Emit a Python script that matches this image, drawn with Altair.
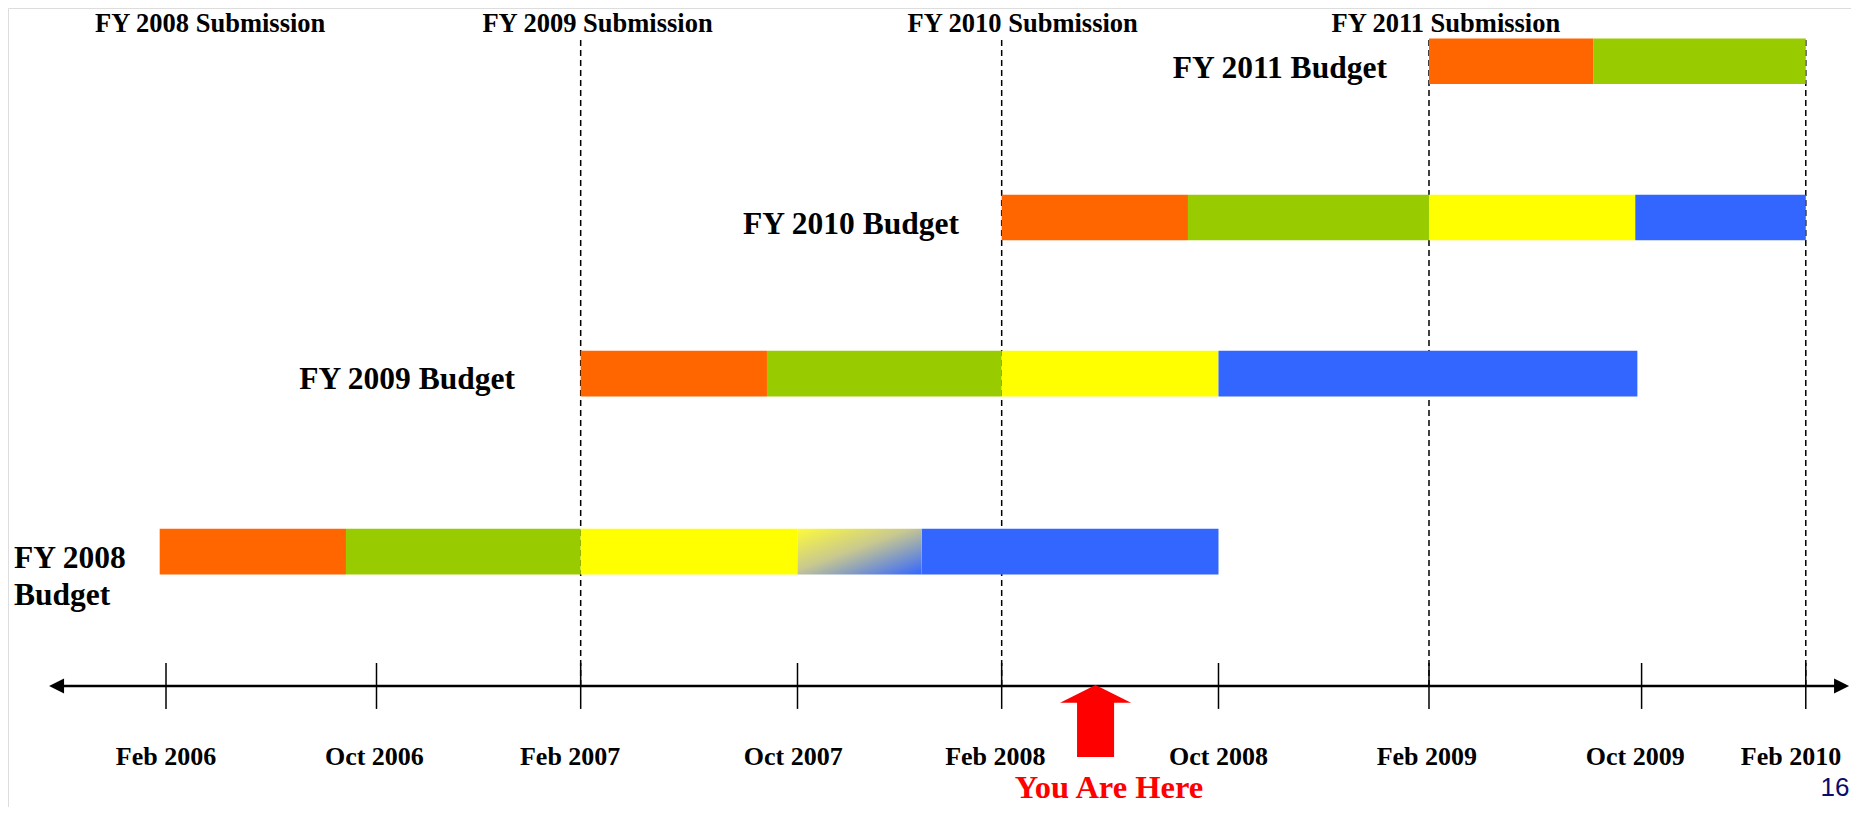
import altair as alt
import pandas as pd

# ---------------- data ----------------
# x: timeline units (1 unit ~ one interval between axis ticks, Feb 2006 = 0)
# y: row units (axis = 0, one unit per budget row)
tick_labels = ["Feb 2006", "Oct 2006", "Feb 2007", "Oct 2007", "Feb 2008",
               "Oct 2008", "Feb 2009", "Oct 2009", "Feb 2010"]
tick_pos = [0.0, 1.0, 1.97, 3.0, 3.97, 5.0, 6.0, 7.01, 7.79]
tick_label_pos = [0.0, 0.99, 1.92, 2.98, 3.94, 5.0, 5.99, 6.98, 7.72]

submission_labels = ["FY 2008 Submission", "FY 2009 Submission",
                     "FY 2010 Submission", "FY 2011 Submission"]
submission_label_pos = [0.21, 2.05, 4.07, 6.08]
submission_marker_pos = [1.97, 3.97, 6.0, 7.79]

budget_names = ["FY 2008", "FY 2009", "FY 2010", "FY 2011"]
budget_rows = [0.86, 2.0, 3.0, 4.0]

seg_budget = (["FY 2008"] * 5 + ["FY 2009"] * 4 + ["FY 2010"] * 4 + ["FY 2011"] * 2)
seg_start = [-0.03, 0.855, 1.97, 3.0, 3.59,
             1.97, 2.855, 3.97, 5.0,
             3.97, 4.855, 6.0, 6.98,
             6.0, 6.78]
seg_end = [0.855, 1.97, 3.0, 3.59, 5.0,
           2.855, 3.97, 5.0, 6.99,
           4.855, 6.0, 6.98, 7.79,
           6.78, 7.79]
seg_phase = ["Planning", "Review", "Execution", "Transition", "Closeout",
             "Planning", "Review", "Execution", "Closeout",
             "Planning", "Review", "Execution", "Closeout",
             "Planning", "Review"]

phase_names = ["Planning", "Review", "Execution", "Closeout"]
phase_colors = ["#ff6600", "#99cc00", "#ffff00", "#3366ff"]

budget_label_text = ["FY 2011 Budget", "FY 2010 Budget", "FY 2009 Budget"]
budget_label_x = [5.80, 3.767, 1.658]
budget_label_y = [3.95, 2.95, 1.96]
fy2008_label_lines = ["FY 2008", "Budget"]
fy2008_label_x = [-0.722, -0.722]
fy2008_label_y = [0.813, 0.575]

axis_start, axis_end = -0.52, 7.96
here_x = 4.416
here_label = "You Are Here"
page_number = "16"

# ---------------- scales ----------------
BAR_HALF = 0.146
row_of = dict(zip(budget_names, budget_rows))
X = alt.Scale(domain=[-0.7506, 8.0048], nice=False, zero=False)
Y = alt.Scale(domain=[-0.775, 4.341], nice=False, zero=False)
SERIF = "Liberation Serif"

def xq(f):
    return alt.X(f, type="quantitative", scale=X, axis=None)

def yq(f):
    return alt.Y(f, type="quantitative", scale=Y, axis=None)

segs = pd.DataFrame({"budget": seg_budget, "start": seg_start, "end": seg_end, "phase": seg_phase})
segs["y0"] = [row_of[b] - BAR_HALF for b in seg_budget]
segs["y1"] = [row_of[b] + BAR_HALF for b in seg_budget]

bars = alt.Chart(segs).transform_filter(alt.datum.phase != "Transition").mark_rect().encode(
    x=xq("start"), x2="end", y=yq("y0"), y2="y1",
    color=alt.Color("phase:N", scale=alt.Scale(domain=phase_names, range=phase_colors), legend=None),
)
grad = alt.Chart(segs).transform_filter(alt.datum.phase == "Transition").mark_rect(
    color=alt.Gradient(gradient="linear", x1=0, y1=0, x2=1, y2=1,
                       stops=[alt.GradientStop(offset=0, color="#fdfa3a"),
                              alt.GradientStop(offset=0.45, color="#c9c98f"),
                              alt.GradientStop(offset=1, color="#3366ff")])
).encode(x=xq("start"), x2="end", y=yq("y0"), y2="y1")

ticks = pd.DataFrame({"label": tick_labels, "pos": tick_pos, "lpos": tick_label_pos,
                      "t0": [-0.147] * 9, "t1": [0.147] * 9, "ly": [-0.455] * 9})
tick_marks = alt.Chart(ticks).mark_rule(color="black", strokeWidth=1.5).encode(
    x=xq("pos"), y=yq("t0"), y2="t1")
tick_text = alt.Chart(ticks).mark_text(font=SERIF, fontWeight="bold", fontSize=26,
                                       align="center", baseline="middle", color="black").encode(
    x=xq("lpos"), y=yq("ly"), text="label:N")

axis_df = pd.DataFrame({"a": [axis_start], "b": [axis_end], "y": [0.0]})
axis_line = alt.Chart(axis_df).mark_rule(color="black", strokeWidth=2.5).encode(
    x=xq("a"), x2="b", y=yq("y"))
left_head = alt.Chart(axis_df).mark_point(shape="M-1,0L1,-1L1,1Z", filled=True, opacity=1,
                                          color="black", size=225, strokeWidth=0).encode(
    x=xq("a"), y=yq("y"))
right_head = alt.Chart(axis_df).mark_point(shape="M1,0L-1,-1L-1,1Z", filled=True, opacity=1,
                                           color="black", size=225, strokeWidth=0).encode(
    x=xq("b"), y=yq("y"))

sub = pd.DataFrame({"label": submission_labels, "pos": submission_label_pos, "y": [4.24] * 4})
sub_text = alt.Chart(sub).mark_text(font=SERIF, fontWeight="bold", fontSize=26.5,
                                    align="center", baseline="middle", color="black").encode(
    x=xq("pos"), y=yq("y"), text="label:N")

marks = pd.DataFrame({"pos": submission_marker_pos, "top": [4.14] * 4, "bot": [0.0] * 4})
dashed = alt.Chart(marks).mark_rule(color="black", strokeWidth=1.5, strokeDash=[6, 4]).encode(
    x=xq("pos"), y=yq("bot"), y2="top")

bl = pd.DataFrame({"label": budget_label_text, "x": budget_label_x, "y": budget_label_y})
budget_text = alt.Chart(bl).mark_text(font=SERIF, fontWeight="bold", fontSize=31.5,
                                      align="right", baseline="middle", color="black").encode(
    x=xq("x"), y=yq("y"), text="label:N")
bl8 = pd.DataFrame({"label": fy2008_label_lines, "x": fy2008_label_x, "y": fy2008_label_y})
budget8_text = alt.Chart(bl8).mark_text(font=SERIF, fontWeight="bold", fontSize=31.5,
                                        align="left", baseline="middle", color="black").encode(
    x=xq("x"), y=yq("y"), text="label:N")

here = pd.DataFrame({"x": [here_x], "x0": [here_x - 0.088], "x1": [here_x + 0.088],
                     "hy": [-0.051], "s0": [-0.455], "s1": [-0.1], "ty": [-0.652], "tx": [here_x + 0.064],
                     "label": [here_label]})
here_head = alt.Chart(here).mark_point(shape="M-1,0.25L0,-0.25L1,0.25Z", filled=True, opacity=1,
                                       color="#ff0000", size=5041, strokeWidth=0).encode(
    x=xq("x"), y=yq("hy"))
here_shaft = alt.Chart(here).mark_rect(color="#ff0000").encode(
    x=xq("x0"), x2="x1", y=yq("s0"), y2="s1")
here_text = alt.Chart(here).mark_text(font=SERIF, fontWeight="bold", fontSize=32.5,
                                      align="center", baseline="middle", color="#ff0000").encode(
    x=xq("tx"), y=yq("ty"), text="label:N")

pg = pd.DataFrame({"x": [7.86], "y": [-0.652], "label": [page_number]})
page_text = alt.Chart(pg).mark_text(font="Liberation Sans", fontSize=26, align="left",
                                    baseline="middle", color="#0b0b6e").encode(
    x=xq("x"), y=yq("y"), text="label:N")

chart = alt.layer(
    dashed, bars, grad, axis_line, left_head, right_head, tick_marks, tick_text,
    sub_text, budget_text, budget8_text, here_shaft, here_head, here_text, page_text
).properties(
    width=1843, height=799, autosize=alt.AutoSizeParams(type="none"), padding=0
).configure_view(strokeWidth=0).configure(background="white")

chart.save("out.html", embed_options={"renderer": "svg", "actions": False})
